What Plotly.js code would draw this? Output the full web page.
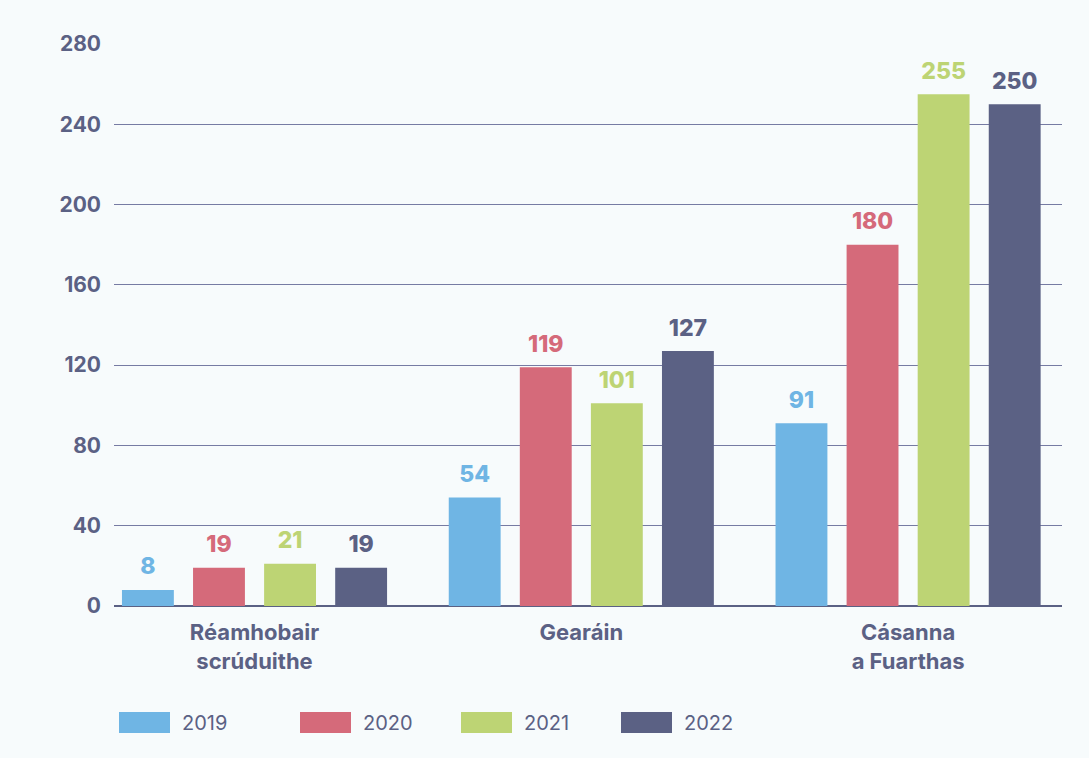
<!DOCTYPE html>
<html>
<head>
<meta charset="utf-8">
<script src="https://cdn.plot.ly/plotly-3.0.1.min.js"></script>
<style>
html,body{margin:0;padding:0;background:#f7fbfc;}
#chart{width:1089px;height:758px;}
</style>
</head>
<body>
<div id="chart"></div>
<script>
const categories = ["Réamhobair<br>scrúduithe", "Gearáin", "Cásanna<br>a Fuarthas"];
const seriesNames = ["2019", "2020", "2021", "2022"];
const values2019 = [8, 54, 91];
const values2020 = [19, 119, 180];
const values2021 = [21, 101, 255];
const values2022 = [19, 127, 250];
const seriesValues = [values2019, values2020, values2021, values2022];
const colors = ["#6fb5e4", "#d56a7a", "#bdd474", "#5b6184"];
const yTicks = [0, 40, 80, 120, 160, 200, 240, 280];

const textCol = "#5b6184";
const fontFam = "Inter, 'Open Sans', sans-serif";
const xs = [0, 1, 2];

const traces = [];
seriesNames.forEach((name, i) => {
  traces.push({
    type: "bar",
    name: name,
    x: xs,
    y: seriesValues[i],
    offsetgroup: name,
    marker: {color: colors[i]},
    hoverinfo: "skip",
    showlegend: false
  });
});
seriesNames.forEach((name, i) => {
  traces.push({
    type: "scatter",
    mode: "markers+text",
    name: name + " labels",
    x: xs,
    y: seriesValues[i],
    offsetgroup: name,
    marker: {size: 14, opacity: 0, color: colors[i]},
    text: seriesValues[i].map(String),
    textposition: "top center",
    cliponaxis: false,
    textfont: {family: fontFam, size: 23, weight: 800, color: colors[i]},
    hoverinfo: "skip",
    showlegend: false
  });
});

// legend drawn as rectangles + labels in paper space
const legendX = [119, 300, 461, 621];
const W = 1089, H = 758;
const mL = 114, mR = 27, mT = 44, mB = 152;
const pw = W - mL - mR, ph = H - mT - mB;
const shapes = [];
const annotations = [];
seriesNames.forEach((name, i) => {
  const x0 = (legendX[i] - mL) / pw, x1 = (legendX[i] + 51 - mL) / pw;
  const y0 = (H - mB - 733) / ph, y1 = (H - mB - 712) / ph;
  shapes.push({type: "rect", xref: "paper", yref: "paper", x0: x0, x1: x1, y0: y0, y1: y1,
    fillcolor: colors[i], line: {width: 0}});
  annotations.push({xref: "paper", yref: "paper", x: (legendX[i] + 61 - mL) / pw,
    y: (H - mB - 723) / ph, xanchor: "left", yanchor: "middle", showarrow: false,
    text: name, font: {family: fontFam, size: 20, color: textCol}});
});

const layout = {
  width: W, height: H,
  margin: {l: mL, r: mR, t: mT, b: mB, pad: 0},
  paper_bgcolor: "#f7fbfc",
  plot_bgcolor: "#f7fbfc",
  barmode: "group",
  bargap: 0.13,
  bargroupgap: 0.27,
  scattermode: "group",
  scattergap: 0.13,
  showlegend: false,
  font: {family: fontFam, color: textCol},
  xaxis: {
    range: [-0.43, 2.471],
    tickvals: xs,
    ticktext: categories,
    showgrid: false,
    zeroline: false,
    showline: false,
    ticks: "",
    ticklabelstandoff: 11,
    tickfont: {family: fontFam, size: 22, weight: 700, color: textCol},
    fixedrange: true
  },
  yaxis: {
    range: [0, 280],
    tickvals: yTicks,
    ticktext: yTicks.map(String),
    showgrid: true,
    gridcolor: "#767ba3",
    gridwidth: 1,
    zeroline: true,
    zerolinecolor: "#5b6184",
    zerolinewidth: 2.5,
    ticks: "",
    ticklabelstandoff: 12,
    tickfont: {family: fontFam, size: 21, weight: 700, color: textCol},
    fixedrange: true
  },
  shapes: shapes,
  annotations: annotations
};

Plotly.newPlot("chart", traces, layout, {displayModeBar: false, staticPlot: true});
</script>
</body>
</html>
